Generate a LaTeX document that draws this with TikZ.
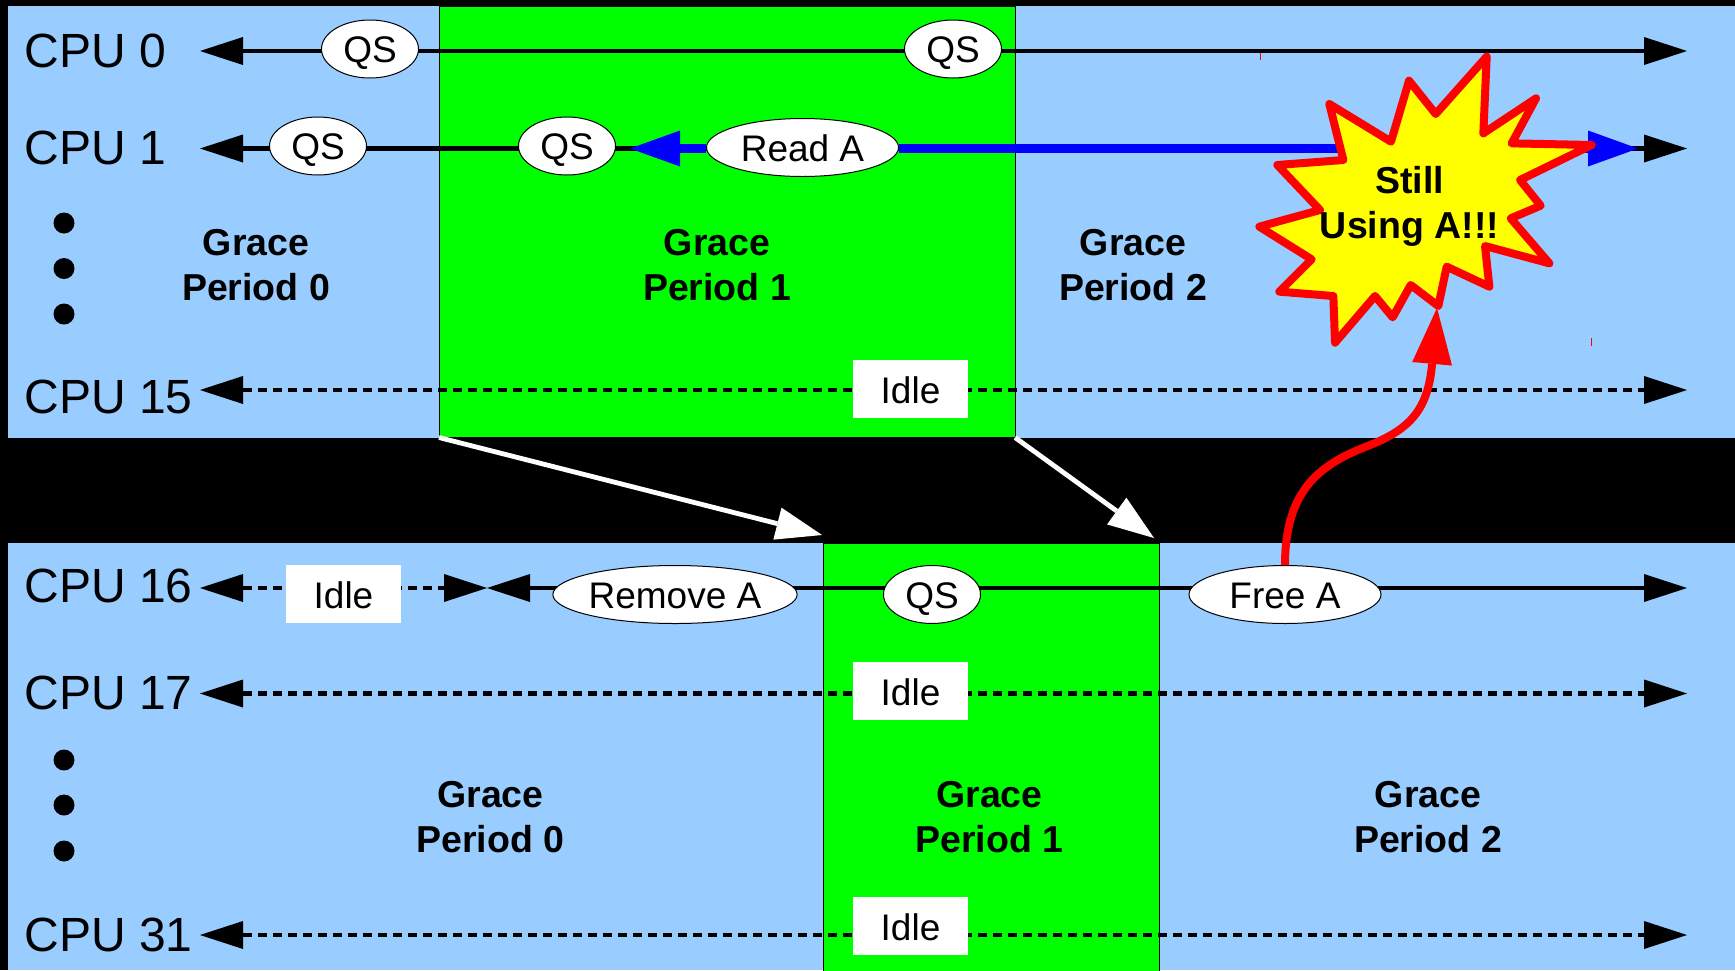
\documentclass[tikz,border=0pt]{standalone}
\usepackage{fontspec}
\setmainfont{Liberation Sans}
\usetikzlibrary{arrows.meta,shapes.geometric}
\definecolor{panelblue}{HTML}{99CCFF}
\definecolor{panelgreen}{HTML}{00FF00}
\definecolor{pureyellow}{HTML}{FFFF00}
\definecolor{purered}{HTML}{FF0000}
\definecolor{pureblue}{HTML}{0000FF}
\tikzset{
  x=0.5pt,y=-0.5pt,
  panel/.style={fill=panelblue,draw=none},
  gpband/.style={fill=panelgreen,draw=black,line width=0.4pt},
  blackhead/.tip={Triangle[length=21.5pt,width=14pt,line width=0pt]},
  cpuline/.style={draw=black,line width=2.2pt,{blackhead}-{blackhead}},
  idleline/.style={cpuline,dash pattern=on 4.4pt off 3.1pt},
  cpulabel/.style={anchor=west,inner sep=0pt,font=\fontsize{24}{28}\selectfont,text height=16.8pt,text depth=0pt},
  gplabel/.style={align=center,inner sep=0pt,font=\fontsize{18.75}{22.5}\selectfont\bfseries},
  evt/.style={ellipse,draw=black,line width=0.5pt,fill=white,inner sep=0pt,minimum height=29pt,
     font=\fontsize{18.5}{22}\selectfont,text height=13.2pt,text depth=0pt},
  lowtext/.style={text height=14pt},
  qs/.style={evt,minimum width=48.5pt},
  evtwide/.style={evt,minimum width=96pt},
  idlebox/.style={rectangle,fill=white,inner sep=0pt,minimum width=57.5pt,minimum height=29pt,
     font=\fontsize{18.5}{22}\selectfont,text height=14pt,text depth=0pt},
  bigdot/.style={circle,fill=black,inner sep=0pt,minimum size=10.5pt},
  whitearrow/.style={draw=white,line width=2.4pt,-{Triangle[length=23pt,width=16.5pt,line width=0pt,fill=white]}},
  blueline/.style={draw=pureblue,line width=4.8pt,-{Triangle[length=25pt,width=18pt,line width=0pt,fill=pureblue]}},
  redarrow/.style={draw=purered,line width=4pt,-{Triangle[length=28pt,width=20pt,line width=0pt,fill=purered]}},
  starshape/.style={draw=purered,fill=pureyellow,line width=4pt,line join=round},
  tick/.style={draw=purered,line width=0.5pt},
}
\begin{document}
\begin{tikzpicture}
\useasboundingbox (0,0) rectangle (1735,970);
\fill[black] (0,0) rectangle (1735,970);
% panels
\path[panel] (8,6) rectangle (1735,437.5);
\path[gpband] (439,6) rectangle (1015,437.5);
\path[panel] (8,543) rectangle (1735,970);
\path[gpband] (823.5,543) rectangle (1159,972);
% connector ends
\coordinate (l0) at (200,51);   \coordinate (r0) at (1687,51);
\coordinate (l1) at (200,148.5);  \coordinate (r1) at (1687,148.5);
\coordinate (l15) at (200,390); \coordinate (r15) at (1687,390);
\coordinate (l16) at (200,588); \coordinate (m16) at (487,588); \coordinate (r16) at (1687,588);
\coordinate (l17) at (200,693.5); \coordinate (r17) at (1687,693.5);
\coordinate (l31) at (200,935); \coordinate (r31) at (1687,935);
\coordinate (blueL) at (630,148.5); \coordinate (blueR) at (1638,148.5);
\coordinate (topA) at (439,437.5); \coordinate (topB) at (1015,437.5);
\coordinate (botA) at (822,535); \coordinate (botB) at (1154,538);
\coordinate (redmidc) at (1365,447); \coordinate (redtip) at (1437,308);
% CPU lines
\draw[cpuline] (l0) -- (r0);
\draw[cpuline] (l1) -- (r1);
\draw[idleline] (l15) -- (r15);
\draw[idleline] (l16) -- (m16);
\draw[cpuline] (m16) -- (r16);
\draw[idleline] (l17) -- (r17);
\draw[idleline] (l31) -- (r31);
% transfer arrows
\draw[whitearrow] (topA) -- (botA);
\draw[whitearrow] (topB) -- (botB);
% CPU labels
\node[cpulabel] (c0) at (24,51) {CPU 0};
\node[cpulabel] (c1) at (24,148) {CPU 1};
\node[cpulabel] (c15) at (24,397) {CPU 15};
\node[cpulabel] (c16) at (24,586) {CPU 16};
\node[cpulabel] (c17) at (24,692.5) {CPU 17};
\node[cpulabel] (c31) at (24,934.5) {CPU 31};
% dots
\node[bigdot] (d1) at (64,223) {};
\node[bigdot] (d2) at (64,268.5) {};
\node[bigdot] (d3) at (64,314) {};
\node[bigdot] (d4) at (64,760) {};
\node[bigdot] (d5) at (64,805) {};
\node[bigdot] (d6) at (64,851) {};
% events
\node[qs] (qsA) at (370,49) {QS};
\node[qs] (qsB) at (953,49) {QS};
\node[qs] (qsC) at (318,146) {QS};
\node[qs] (qsD) at (567,146) {QS};
\node[evtwide,lowtext] (readA) at (802.5,147.5) {Read A};
\node[evt,lowtext,minimum width=119.5pt] (removeA) at (675,594.5) {Remove A};
\node[qs,lowtext] (qsE) at (932,594.5) {QS};
\node[evtwide,lowtext] (freeA) at (1285,594.5) {Free A};
% idle
\node[idlebox] (i15) at (910.5,389) {Idle};
\node[idlebox] (i16) at (343.5,594) {Idle};
\node[idlebox] (i17) at (910.5,691) {Idle};
\node[idlebox] (i31) at (910.5,926) {Idle};
% grace
\node[gplabel] (g0) at (256,265) {Grace\\Period 0};
\node[gplabel] (g1) at (717,265) {Grace\\Period 1};
\node[gplabel] (g2) at (1133,265) {Grace\\Period 2};
\node[gplabel] (g3) at (490.5,817.5) {Grace\\Period 0};
\node[gplabel] (g4) at (989.5,817.5) {Grace\\Period 1};
\node[gplabel] (g5) at (1428,817.5) {Grace\\Period 2};
% blue
\draw[blueline] (readA.west |- blueL) -- (blueL);
\draw[blueline] (readA.east |- blueR) -- (blueR);
% ticks
\draw[tick] (1260,53) -- (1260,60);
\draw[tick] (1591,338) -- (1591,346);
% star
\begin{scope}[shift={(1200,30)},x=0.16667pt,y=-0.16667pt]
\path[starshape] (860,80)--(850,310)--(1008,205)--(935,340)--(1175,345)--(960,450)--(1022,527)--(932,565)--(1048,700)--(855,648)--(868,770)--(740,710)--(715,828)--(632,765)--(578,862)--(525,798)--(405,938)--(400,798)--(238,785)--(335,688)--(178,590)--(360,540)--(232,405)--(430,390)--(388,222)--(573,335)--(627,152)--(707,252)--cycle;
\end{scope}
\node[gplabel] (still) at (1409.5,206.5) {Still\\Using A!!!};
% red arrow
\draw[redarrow] (freeA.north) .. controls (1285,490) and (1320,465) .. (redmidc) .. controls (1410,430) and (1428,410) .. (redtip);
\end{tikzpicture}
\end{document}
